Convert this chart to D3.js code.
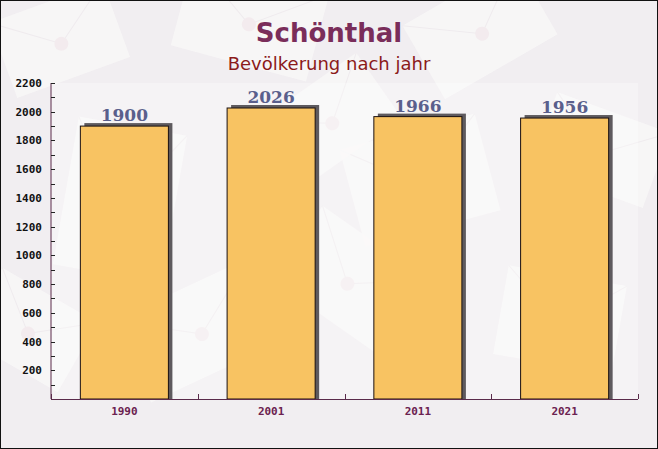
<!DOCTYPE html>
<html><head><meta charset="utf-8">
<script src="https://cdn.jsdelivr.net/npm/d3@7"></script>
<style>html,body{margin:0;padding:0;background:#fff;}svg{display:block;}</style>
</head><body>
<svg id="c" width="658" height="449"></svg>
<script>
const years = ["1990", "2001", "2011", "2021"];
const population = [1900, 2026, 1966, 1956];
const yTicks = [200, 400, 600, 800, 1000, 1200, 1400, 1600, 1800, 2000, 2200];
const titleText = "Schönthal";
const subtitleText = "Bevölkerung nach jahr";

const W = 658, H = 449;
const svg = d3.select("#c");
const m = {left: 51, right: 638, top: 83, bottom: 399};

// background
svg.append("rect").attr("width", W).attr("height", H).attr("fill", "#f1eef1");
const bg = svg.append("g");
const env = [
  [60,40,-20,120,80],[250,20,15,140,90],[480,30,-30,130,85],[600,150,20,120,80],
  [120,200,10,110,150],[420,180,-15,140,100],[200,330,-25,150,90],[560,320,10,120,90],
  [30,330,30,110,80],[350,280,35,130,90],[330,120,-35,120,80]
];
env.forEach(([x,y,r,w,h]) => {
  const g = bg.append("g").attr("transform", `translate(${x},${y}) rotate(${r})`);
  g.append("rect").attr("x",-w/2).attr("y",-h/2).attr("width",w).attr("height",h).attr("fill","#f9f7f8").attr("opacity",0.8);
  g.append("path").attr("d",`M${-w/2},${-h/2} L0,${h*0.05} L${w/2},${-h/2}`).attr("fill","none").attr("stroke","#efebee").attr("stroke-width",1);
  g.append("circle").attr("cx",0).attr("cy",h*0.05).attr("r",7).attr("fill","#f3ebee");
});
// plot area lighter
svg.append("rect").attr("x", m.left).attr("y", m.top).attr("width", m.right - m.left).attr("height", m.bottom - m.top)
  .attr("fill", "#ffffff").attr("opacity", 0.3);

const x = d3.scaleBand().domain(years).range([m.left, m.right]).paddingInner(0.4).paddingOuter(0.2);
const y = d3.scaleLinear().domain([0, 2200]).range([m.bottom, m.top]);

// bars with shadow
const bars = svg.append("g");
years.forEach((yr, i) => {
  const bx = x(yr), bw = x.bandwidth(), by = y(population[i]);
  bars.append("rect").attr("x", bx + 4).attr("y", by - 3).attr("width", bw).attr("height", m.bottom - by + 3)
    .attr("fill", "#5e5a5e");
  bars.append("rect").attr("x", bx).attr("y", by).attr("width", bw).attr("height", m.bottom - by)
    .attr("fill", "#f8c362").attr("stroke", "#1a1010").attr("stroke-width", 1);
  bars.append("text").attr("x", bx + bw / 2).attr("y", by - 5).attr("text-anchor", "middle")
    .attr("font-family", "'DejaVu Serif', serif").attr("font-weight", "bold").attr("font-size", 17)
    .attr("fill", "#5a5f8c").text(population[i]);
});

// y axis
const axisColor = "#5a2a4a";
const yAxis = svg.append("g");
yAxis.append("line").attr("x1", m.left).attr("x2", m.left).attr("y1", m.top).attr("y2", m.bottom).attr("stroke", axisColor);
d3.range(100, 2201, 100).forEach(v => {
  yAxis.append("line").attr("x1", m.left).attr("x2", m.left + 4).attr("y1", Math.round(y(v)) + 0.5).attr("y2", Math.round(y(v)) + 0.5)
    .attr("stroke", "#222");
});
yTicks.forEach(v => {
  yAxis.append("text").attr("x", 42).attr("y", y(v) + 4).attr("text-anchor", "end")
    .attr("font-family", "'DejaVu Sans Mono', monospace").attr("font-weight", "bold").attr("font-size", 11)
    .attr("fill", "#111").text(v);
});

// x axis
const xAxis = svg.append("g");
xAxis.append("line").attr("x1", m.left).attr("x2", m.right).attr("y1", m.bottom + 0.5).attr("y2", m.bottom + 0.5).attr("stroke", axisColor);
d3.range(years.length + 1).forEach(i => {
  const tx = Math.round(m.left + i * (m.right - m.left) / years.length) + 0.5;
  xAxis.append("line").attr("x1", tx).attr("x2", tx).attr("y1", m.bottom).attr("y2", m.bottom - 5).attr("stroke", axisColor);
});
years.forEach(yr => {
  xAxis.append("text").attr("x", x(yr) + x.bandwidth() / 2).attr("y", 415).attr("text-anchor", "middle")
    .attr("font-family", "'DejaVu Sans Mono', monospace").attr("font-weight", "bold").attr("font-size", 11)
    .attr("fill", "#6b2250").text(yr);
});

// titles
svg.append("text").attr("x", W / 2).attr("y", 42).attr("text-anchor", "middle")
  .attr("font-family", "'DejaVu Sans', sans-serif").attr("font-weight", "bold").attr("font-size", 26)
  .attr("fill", "#7a2d5a").text(titleText);
svg.append("text").attr("x", W / 2).attr("y", 70).attr("text-anchor", "middle")
  .attr("font-family", "'DejaVu Sans', sans-serif").attr("font-size", 18)
  .attr("fill", "#8b1a1a").text(subtitleText);

// frame
svg.append("rect").attr("x", 0.5).attr("y", 0.5).attr("width", W - 1).attr("height", H - 1)
  .attr("fill", "none").attr("stroke", "#111");
</script>
</body></html>
